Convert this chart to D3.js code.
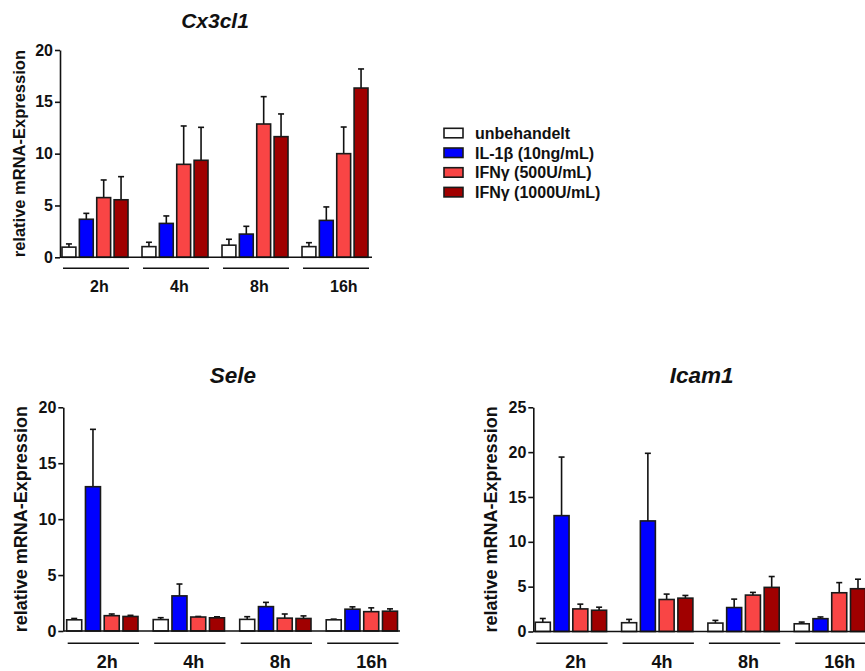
<!DOCTYPE html>
<html>
<head>
<meta charset="utf-8">
<script src="https://cdn.jsdelivr.net/npm/d3@7"></script>
<style>
  body { margin: 0; background: #fff; }
  svg { display: block; font-family: "Liberation Sans", Arial, sans-serif; }
</style>
</head>
<body>
<div id="container"></div>
<script>
// groups and treatments
const timepoints = ["2h", "4h", "8h", "16h"];
const treatments = ["unbehandelt", "IL-1\u03b2 (10ng/mL)", "IFN\u03b3 (500U/mL)", "IFN\u03b3 (1000U/mL)"];
const colours = ["#ffffff", "#0000ff", "#f94545", "#a00000"];

// mean per timepoint (rows) and treatment (columns), plus SD (upper bar only)
const cx3cl1Mean = [
  [0.98, 3.67, 5.76, 5.55],
  [1.03, 3.27, 8.97, 9.36],
  [1.17, 2.24, 12.86, 11.64],
  [1.03, 3.56, 10.0, 16.33]
];
const cx3cl1Sd = [
  [0.31, 0.57, 1.70, 2.23],
  [0.42, 0.72, 3.70, 3.18],
  [0.57, 0.75, 2.64, 2.19],
  [0.38, 1.30, 2.57, 1.84]
];

const seleMean = [
  [1.0, 12.9, 1.37, 1.3],
  [1.02, 3.14, 1.25, 1.18],
  [1.04, 2.18, 1.15, 1.12],
  [1.0, 1.95, 1.73, 1.77]
];
const seleSd = [
  [0.12, 5.13, 0.15, 0.1],
  [0.17, 1.06, 0.05, 0.09],
  [0.24, 0.38, 0.37, 0.23],
  [0.06, 0.21, 0.34, 0.21]
];

const icam1Mean = [
  [1.03, 12.92, 2.52, 2.37],
  [0.98, 12.33, 3.57, 3.72],
  [0.94, 2.67, 4.06, 4.92],
  [0.86, 1.43, 4.32, 4.77]
];
const icam1Sd = [
  [0.42, 6.53, 0.53, 0.34],
  [0.37, 7.54, 0.60, 0.30],
  [0.30, 0.94, 0.30, 1.21],
  [0.19, 0.19, 1.13, 1.06]
];

const ticks20 = [0, 5, 10, 15, 20];
const ticks25 = [0, 5, 10, 15, 20, 25];

let svg = d3.select("#container").append("svg")
  .attr("width", 865)
  .attr("height", 671);

function drawPanel(o) {
  let g = svg.append("g");

  let y = d3.scaleLinear().domain([0, o.yMax]).range([o.y0, o.yTop]);
  let x0 = d3.scaleBand()
    .domain(timepoints)
    .range([o.gx, o.gx + 4 * o.step - (o.step - o.bw)])
    .paddingInner((o.step - o.bw) / o.step);
  let x1 = d3.scaleBand().domain(treatments).range([0, x0.bandwidth()]).paddingInner(0.2);

  let rows = [];
  timepoints.forEach((t, i) => {
    treatments.forEach((s, j) => {
      rows.push({ t: t, s: s, j: j, mean: o.mean[i][j], sd: o.sd[i][j] });
    });
  });

  // error bars (upper only)
  let eb = g.append("g").attr("stroke", "#111").attr("stroke-width", 1.6);
  rows.forEach(d => {
    let cx = x0(d.t) + x1(d.s) + x1.bandwidth() / 2;
    eb.append("line").attr("x1", cx).attr("x2", cx).attr("y1", y(d.mean)).attr("y2", y(d.mean + d.sd));
    eb.append("line").attr("x1", cx - 3).attr("x2", cx + 3).attr("y1", y(d.mean + d.sd)).attr("y2", y(d.mean + d.sd));
  });

  g.append("g")
    .selectAll("rect")
    .data(rows)
    .enter()
    .append("rect")
    .attr("x", d => x0(d.t) + x1(d.s))
    .attr("y", d => y(d.mean))
    .attr("width", x1.bandwidth())
    .attr("height", d => y(0) - y(d.mean))
    .attr("fill", d => colours[d.j])
    .attr("stroke", "#1a1a1a")
    .attr("stroke-width", 1.6);

  // y axis
  let yAxisG = g.append("g")
    .attr("transform", "translate(" + o.ax + ",0)")
    .call(d3.axisLeft(y).tickValues(o.ticks).tickSize(5).tickSizeOuter(0).tickPadding(2));
  yAxisG.selectAll("path, line").attr("stroke", "#111").attr("stroke-width", 1.6);
  yAxisG.selectAll("text")
    .attr("font-size", 16)
    .attr("font-weight", "bold")
    .attr("font-family", "Liberation Sans, Arial, sans-serif")
    .attr("fill", "#111");

  // x baseline
  g.append("line")
    .attr("x1", o.ax).attr("x2", o.xEnd)
    .attr("y1", y(0)).attr("y2", y(0))
    .attr("stroke", "#111").attr("stroke-width", 1.6);

  // group underlines and labels
  timepoints.forEach(t => {
    g.append("line")
      .attr("x1", x0(t) + 1).attr("x2", x0(t) + x0.bandwidth() + 1)
      .attr("y1", o.lineY).attr("y2", o.lineY)
      .attr("stroke", "#111").attr("stroke-width", 1.6);
    g.append("text")
      .attr("x", x0(t) + o.labelDx)
      .attr("y", o.labelY)
      .attr("font-size", o.labelSize)
      .attr("font-weight", "bold")
      .attr("fill", "#111")
      .text(t);
  });

  g.append("text")
    .attr("x", o.titleX)
    .attr("y", o.titleY)
    .attr("text-anchor", "middle")
    .attr("font-size", o.titleSize)
    .attr("font-weight", "bold")
    .attr("font-style", "italic")
    .attr("fill", "#111")
    .text(o.title);

  g.append("text")
    .attr("transform", "translate(" + o.ytX + "," + (o.y0 + o.yTop) / 2 + ") rotate(-90)")
    .attr("text-anchor", "middle")
    .attr("font-size", o.ytSize)
    .attr("font-weight", "bold")
    .attr("fill", "#111")
    .text("relative mRNA-Expression");
}

drawPanel({
  title: "Cx3cl1", mean: cx3cl1Mean, sd: cx3cl1Sd,
  yMax: 20, ticks: ticks20, y0: 257.3, yTop: 50,
  ax: 60, xEnd: 372, gx: 62, step: 80, bw: 66,
  lineY: 268.3, labelY: 291.7, labelDx: 28, labelSize: 16,
  titleX: 215, titleY: 28.3, titleSize: 21,
  ytX: 24.5, ytSize: 16.5
});

drawPanel({
  title: "Sele", mean: seleMean, sd: seleSd,
  yMax: 20, ticks: ticks20, y0: 631, yTop: 407.3,
  ax: 63.3, xEnd: 400, gx: 66.7, step: 86.5, bw: 71.3,
  lineY: 643.3, labelY: 668, labelDx: 30, labelSize: 18,
  titleX: 233, titleY: 383.3, titleSize: 22.5,
  ytX: 26.5, ytSize: 18
});

drawPanel({
  title: "Icam1", mean: icam1Mean, sd: icam1Sd,
  yMax: 25, ticks: ticks25, y0: 631.5, yTop: 407.3,
  ax: 533.3, xEnd: 870, gx: 535.3, step: 86.3, bw: 71.3,
  lineY: 643.3, labelY: 668, labelDx: 30, labelSize: 18,
  titleX: 701.7, titleY: 383.3, titleSize: 22.5,
  ytX: 496.5, ytSize: 18
});

// legend
let legend = svg.append("g").attr("transform", "translate(444,128.3)");
treatments.forEach((s, i) => {
  let row = legend.append("g").attr("transform", "translate(0," + i * 19.7 + ")");
  row.append("rect")
    .attr("width", 19).attr("height", 9.5)
    .attr("fill", colours[i])
    .attr("stroke", "#1a1a1a").attr("stroke-width", 1.6);
  row.append("text")
    .attr("x", 31).attr("y", 10.5)
    .attr("font-size", 16)
    .attr("font-weight", "bold")
    .attr("fill", "#111")
    .text(s);
});
</script>
</body>
</html>
